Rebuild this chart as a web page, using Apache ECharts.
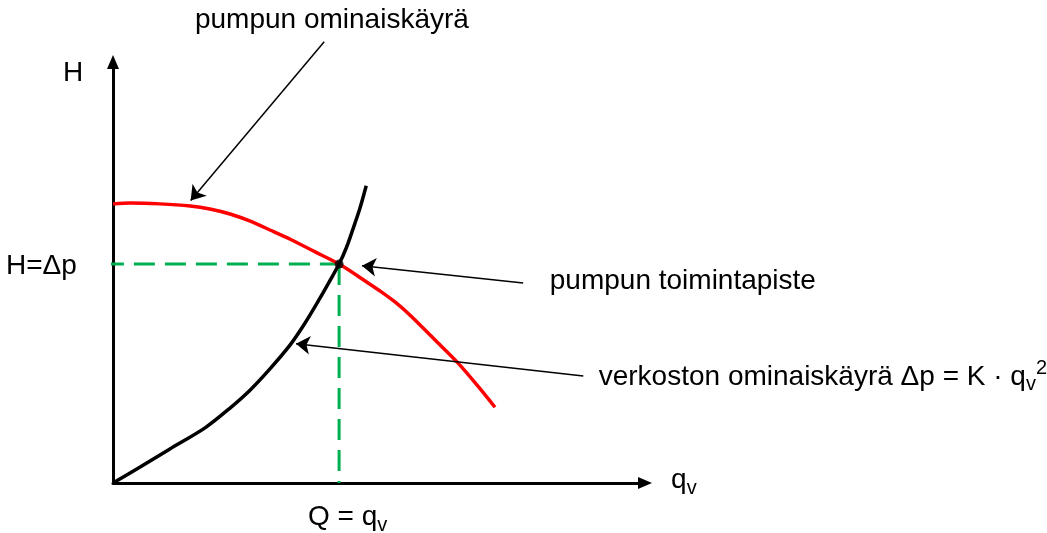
<!DOCTYPE html>
<html>
<head>
<meta charset="utf-8">
<script src="https://cdn.jsdelivr.net/npm/echarts@6/dist/echarts.min.js"></script>
<style>
  html, body { margin: 0; padding: 0; background: #ffffff; }
  #chart { width: 1047px; height: 533px; }
</style>
</head>
<body>
<div id="chart"></div>
<script>
// Pump characteristic curve: head H against flow q_v
const pumpQ = [0, 3.2, 8.8, 14.5, 18.2, 22.0, 25.8, 29.5, 33.3, 38.0, 42.5, 47.4, 50.2, 53.0, 55.8, 60.5, 64.7, 68.4, 71.8];
const pumpH = [66.3, 66.5, 66.3, 65.8, 65.1, 63.9, 62.2, 60.1, 57.9, 54.9, 52.0, 48.0, 45.6, 43.0, 39.9, 34.0, 28.7, 23.3, 18.0];

// Network characteristic curve: Δp = K · q_v²
const netQ = [0, 5.1, 10.7, 17.3, 22.0, 25.8, 29.5, 33.3, 36.1, 38.9, 40.7, 42.5, 43.9, 45.1, 46.4, 47.6];
const netH = [0, 3.8, 8.1, 13.1, 17.8, 22.1, 27.1, 32.8, 38.0, 43.9, 47.9, 52.0, 56.0, 60.3, 65.2, 70.6];

// Operating point (intersection of the two curves)
const opQ = 42.5;
const opH = 52.0;

// Texts
const axisNameH = 'H';
const axisNameQ = '{m|q}{sub|v}';
const opHeadText = 'H=Δp';
const opFlowText = '{m|Q = q}{sub|v}';
const notePump = 'pumpun ominaiskäyrä';
const noteOp = 'pumpun toimintapiste';
const noteNet = '{m|verkoston ominaiskäyrä Δp = K · q}{sub|v}{sup|2}';

const FONT = "'Liberation Sans', Arial, sans-serif";
const richStyles = {
  m:   { fontSize: 28, lineHeight: 36, color: '#000', fontFamily: FONT },
  sub: { fontSize: 20, lineHeight: 15, verticalAlign: 'bottom', color: '#000', fontFamily: FONT },
  sup: { fontSize: 20, lineHeight: 32, verticalAlign: 'top', color: '#000', fontFamily: FONT }
};

const zip = (a, b) => a.map((v, i) => [v, b[i]]);

// Text anchors in axis units
function note(pos, text, align) {
  return {
    value: pos,
    label: {
      show: true,
      position: 'inside',
      formatter: text,
      align: align,
      verticalAlign: 'middle',
      color: '#000',
      opacity: 1,
      textBorderWidth: 0,
      fontSize: 28,
      lineHeight: 36,
      fontFamily: FONT,
      rich: richStyles
    }
  };
}

const chart = echarts.init(document.getElementById('chart'), null, { renderer: 'canvas' });

const axisCommon = {
  type: 'value',
  min: 0,
  max: 100,
  axisLine: {
    show: true,
    symbol: ['none', 'triangle'],
    symbolSize: [12, 14],
    lineStyle: { color: '#000', width: 3 }
  },
  axisTick: { show: false },
  axisLabel: { show: false },
  splitLine: { show: false }
};

chart.setOption({
  animation: false,
  backgroundColor: '#ffffff',
  grid: { left: 113, right: 402, top: 62, bottom: 50 },
  xAxis: axisCommon,
  yAxis: axisCommon,
  series: [
    // dashed guide lines to the operating point
    {
      type: 'line',
      clip: false,
      showSymbol: false,
      silent: true,
      z: 1,
      data: [[-1.9, opH], [opQ, opH]],
      lineStyle: { color: '#00b050', width: 3, type: [21, 10] }
    },
    {
      type: 'line',
      clip: false,
      showSymbol: false,
      silent: true,
      z: 1,
      data: [[opQ, opH], [opQ, 0]],
      lineStyle: { color: '#00b050', width: 3, type: [21, 10] }
    },
    // pump curve
    {
      type: 'line',
      clip: false,
      showSymbol: false,
      smooth: 0.3,
      z: 3,
      data: zip(pumpQ, pumpH),
      lineStyle: { color: '#ff0000', width: 3.5 }
    },
    // network curve
    {
      type: 'line',
      clip: false,
      showSymbol: false,
      smooth: 0.3,
      z: 3,
      data: zip(netQ, netH),
      lineStyle: { color: '#000000', width: 3.5 }
    },
    // operating point marker
    {
      type: 'scatter',
      z: 5,
      symbol: 'circle',
      symbolSize: 9,
      itemStyle: { color: '#000' },
      data: [[opQ, opH]]
    },
    // annotation arrows
    {
      type: 'lines',
      coordinateSystem: 'cartesian2d',
      clip: false,
      z: 4,
      symbol: ['none', 'arrow'],
      symbolSize: [10, 14],
      lineStyle: { color: '#000', width: 1.5, opacity: 1 },
      data: [
        { coords: [[39.7, 104.8], [14.6, 67.1]] },
        { coords: [[77.1, 47.5], [46.8, 51.6]] },
        { coords: [[88.4, 25.4], [34.4, 33.1]] }
      ]
    },
    // text labels
    {
      type: 'scatter',
      clip: false,
      silent: true,
      z: 6,
      symbol: 'circle',
      symbolSize: 1,
      itemStyle: { color: 'rgba(0,0,0,0)' },
      data: [
        note([15.4, 109.9], notePump, 'left'),
        note([82.1, 48.0], noteOp, 'left'),
        note([91.3, 25.2], noteNet, 'left'),
        note([-9.4, 97.3], axisNameH, 'left'),
        note([-6.8, 51.5], opHeadText, 'right'),
        note([104.9, 0.7], axisNameQ, 'left'),
        note([44.1, -8.1], opFlowText, 'center')
      ]
    }
  ]
});
</script>
</body>
</html>
